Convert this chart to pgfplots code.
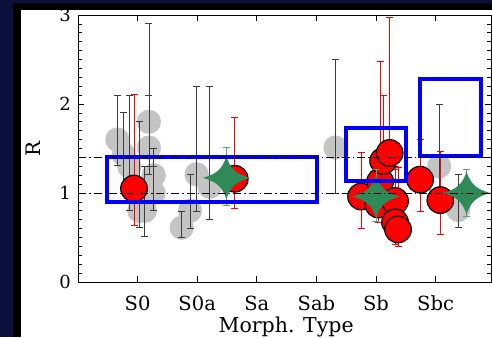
\documentclass[border=0pt]{standalone}
\usepackage{pgfplots}
\usepackage{pgfplotstable}
\pgfplotsset{compat=1.18}
\usepackage{fontspec}
\setmainfont{DejaVu Serif}
\definecolor{navy}{RGB}{12,16,60}
\definecolor{gcirc}{RGB}{196,196,196}
\definecolor{gstar}{RGB}{46,139,87}
\definecolor{gbar}{RGB}{90,165,120}
\definecolor{ebar}{RGB}{60,60,60}
\pgfdeclareplotmark{star4}{%
\pgfpathmoveto{\pgfqpoint{\pgfplotmarksize}{0pt}}%
\pgfpathcurveto{\pgfqpoint{0.42\pgfplotmarksize}{0.18\pgfplotmarksize}}{\pgfqpoint{0.18\pgfplotmarksize}{0.42\pgfplotmarksize}}{\pgfqpoint{0pt}{\pgfplotmarksize}}%
\pgfpathcurveto{\pgfqpoint{-0.18\pgfplotmarksize}{0.42\pgfplotmarksize}}{\pgfqpoint{-0.42\pgfplotmarksize}{0.18\pgfplotmarksize}}{\pgfqpoint{-\pgfplotmarksize}{0pt}}%
\pgfpathcurveto{\pgfqpoint{-0.42\pgfplotmarksize}{-0.18\pgfplotmarksize}}{\pgfqpoint{-0.18\pgfplotmarksize}{-0.42\pgfplotmarksize}}{\pgfqpoint{0pt}{-\pgfplotmarksize}}%
\pgfpathcurveto{\pgfqpoint{0.18\pgfplotmarksize}{-0.42\pgfplotmarksize}}{\pgfqpoint{0.42\pgfplotmarksize}{-0.18\pgfplotmarksize}}{\pgfqpoint{\pgfplotmarksize}{0pt}}%
\pgfpathclose\pgfusepathqfill}
\pgfplotstableread{
x y ep em
-0.34 1.60 0.50 0.29
-0.23 1.43 0.47 0.43
-0.14 1.30 0.80 0.50
0.03 0.80 1.00 0.19
0.12 0.80 0.50 0.29
0.19 1.80 1.10 0.50
0.19 1.51 0.59 0.30
0.27 1.20 0.30 0.40
0.27 1.00 0.30 0.20
0.74 0.61 0.18 0.11
0.88 0.80 0.41 0.20
0.99 1.21 0.99 0.42
1.21 1.07 1.13 0.37
3.32 1.51 0.99 0.51
5.06 1.30 0.70 0.30
5.38 0.81 0.40 0.20
}\graytab
\pgfplotstableread{
x y ep em
-0.06 1.05 1.06 0.41
1.63 1.16 0.69 0.33
3.75 0.96 0.50 0.36
4.07 1.13 1.35 0.40
4.04 0.87 0.40 0.20
4.32 0.91 0.39 0.30
4.32 0.67 0.60 0.25
4.37 0.59 0.70 0.19
4.12 1.36 0.74 0.30
4.23 1.45 1.52 0.30
4.74 1.15 0.45 0.36
5.08 0.92 0.55 0.39
}\redtab
\pgfplotstableread{
x y ep em
1.49 1.17 0.34 0.31
4.00 0.96 0.31 0.28
5.52 1.00 0.26 0.26
}\startab
\begin{document}
\begin{tikzpicture}[x=1pt,y=1pt]
\path[use as bounding box] (0,0) rectangle (492,337);
\fill[navy] (0,0) rectangle (492,337);
\fill[black] (13,0) rectangle (492,334);
\fill[white] (21,0) rectangle (492,327);
\begin{axis}[at={(78pt,55pt)}, anchor=south west, scale only axis,
  width=413pt, height=267pt,
  clip mode=individual,
  xmin=-1, xmax=5.93, ymin=0, ymax=3,
  xtick={0,1,2,3,4,5}, xticklabels={S0,S0a,Sa,Sab,Sb,Sbc},
  ytick={0,1,2,3}, minor y tick num=9,
  major tick length=6pt, minor tick length=4pt,
  tick style={black, line width=0.6pt},
  axis line style={black, line width=0.8pt},
  /pgf/number format/assume math mode=true,
  xticklabel style={font=\fontsize{19.5}{24}\selectfont, anchor=center, yshift=-21pt},
  yticklabel style={font=\fontsize{18}{22}\selectfont, anchor=center, xshift=-13pt},
  xlabel={Morph. Type},
  xlabel style={at={(axis description cs:0.504,-0.169)}, anchor=center, font=\fontsize{20.5}{24}\selectfont},
  ylabel={R},
  ylabel style={at={(axis description cs:-0.109,0.5)}, anchor=center, font=\fontsize{20}{24}\selectfont},
]
% gray circles
\addplot[only marks, mark=*, mark size=12pt, mark options={fill=gcirc, draw=gcirc, line width=0.1pt}]
  table[x=x, y=y] {\graytab};
% their error bars, on top
\addplot[draw=none, mark=none,
  error bars/.cd, y dir=both, y explicit,
  error bar style={ebar, line width=0.8pt},
  error mark options={rotate=90, ebar, mark size=3.5pt, line width=0.8pt}]
  table[x=x, y=y, y error plus=ep, y error minus=em] {\graytab};
% red points
\addplot[only marks, mark=*, mark size=13.3pt, mark options={fill=red, draw=black, line width=1.2pt},
  error bars/.cd, y dir=both, y explicit,
  error bar style={red, line width=0.8pt},
  error mark options={rotate=90, red, mark size=3.5pt, line width=0.8pt}]
  table[x=x, y=y, y error plus=ep, y error minus=em] {\redtab};
% green stars
\addplot[only marks, mark=star4, mark size=23.5pt, mark options={fill=gstar, draw=none, yscale=0.9},
  error bars/.cd, y dir=both, y explicit,
  error bar style={gbar, line width=0.8pt},
  error mark options={rotate=90, gbar, mark size=3.5pt, line width=0.8pt}]
  table[x=x, y=y, y error plus=ep, y error minus=em] {\startab};
% blue boxes
\addplot[blue, line width=4pt, line join=miter, mark=none] coordinates {(-0.52,0.90) (3.01,0.90) (3.01,1.41) (-0.52,1.41)} -- cycle;
\addplot[blue, line width=4pt, line join=miter, mark=none] coordinates {(3.49,1.14) (4.51,1.14) (4.51,1.73) (3.49,1.73)} -- cycle;
\addplot[blue, line width=4pt, line join=miter, mark=none] coordinates {(4.74,1.42) (5.77,1.42) (5.77,2.28) (4.74,2.28)} -- cycle;
% reference lines
\addplot[black, line width=0.7pt, dash pattern=on 8pt off 3pt on 1.5pt off 3pt, mark=none] coordinates {(-1,1) (5.93,1)};
\addplot[black, line width=0.7pt, dash pattern=on 8pt off 3pt on 1.5pt off 3pt, mark=none] coordinates {(-1,1.40) (5.93,1.40)};
\end{axis}
\fill[black] (13,327) rectangle (492,334);
\fill[navy] (0,334) rectangle (492,337);
\end{tikzpicture}
\end{document}
